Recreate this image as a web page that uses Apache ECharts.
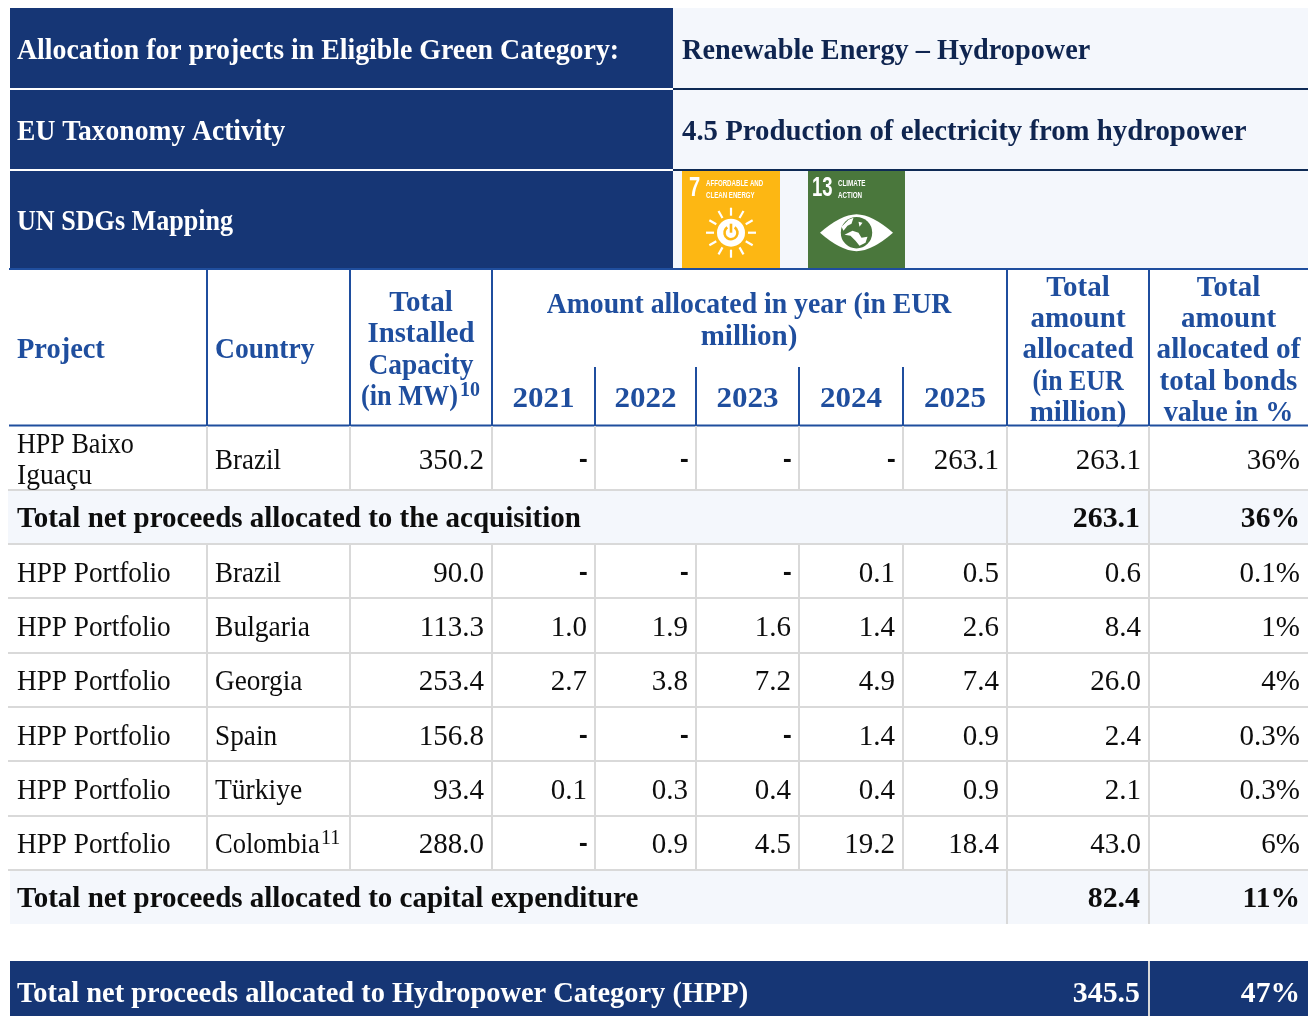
<!DOCTYPE html>
<html>
<head>
<meta charset="utf-8">
<title>Hydropower allocation</title>
<script src="https://cdn.jsdelivr.net/npm/echarts@6/dist/echarts.min.js"></script>
<style>
  html, body { margin: 0; padding: 0; background: #fff; }
  #chart { width: 1314px; height: 1016px; }
</style>
</head>
<body>
<div id="chart"></div>
<script>
// table content
const infoLabels = ["Allocation for projects in Eligible Green Category:", "EU Taxonomy Activity", "UN SDGs Mapping"];
const infoValues = ["Renewable Energy – Hydropower", "4.5 Production of electricity from hydropower"];
const years = ["2021", "2022", "2023", "2024", "2025"];
const projects = ["HPP Baixo Iguaçu", "HPP Portfolio", "HPP Portfolio", "HPP Portfolio", "HPP Portfolio", "HPP Portfolio", "HPP Portfolio"];
const countries = ["Brazil", "Brazil", "Bulgaria", "Georgia", "Spain", "Türkiye", "Colombia"];
const capacity = ["350.2", "90.0", "113.3", "253.4", "156.8", "93.4", "288.0"];
const amount2021 = ["-", "-", "1.0", "2.7", "-", "0.1", "-"];
const amount2022 = ["-", "-", "1.9", "3.8", "-", "0.3", "0.9"];
const amount2023 = ["-", "-", "1.6", "7.2", "-", "0.4", "4.5"];
const amount2024 = ["-", "0.1", "1.4", "4.9", "1.4", "0.4", "19.2"];
const amount2025 = ["263.1", "0.5", "2.6", "7.4", "0.9", "0.9", "18.4"];
const totalAmount = ["263.1", "0.6", "8.4", "26.0", "2.4", "2.1", "43.0"];
const totalShare = ["36%", "0.1%", "1%", "4%", "0.3%", "0.3%", "6%"];
const subtotalLabels = ["Total net proceeds allocated to the acquisition", "Total net proceeds allocated to capital expenditure", "Total net proceeds allocated to Hydropower Category (HPP)"];
const subtotalAmount = ["263.1", "82.4", "345.5"];
const subtotalShare = ["36%", "11%", "47%"];

// layout, in picture units
const colEdges = [9, 207, 350, 492, 595, 696, 799, 903, 1007, 1149, 1308];
const rowCentres = [458, 571, 625, 679, 734, 788, 842];
const subtotalCentres = [517, 897, 992];
const rowLines = [490, 544, 598, 653, 707, 761, 816, 870];

const NAVY = "#163675";
const BLUE = "#1f4e9e";
const PALE = "#f4f7fc";
const GREY = "#d9d9d9";
const INK = "#0d0d0d";
const DARK = "#0f2550";
const YELLOW = "#fdb713";
const GREEN = "#4a773c";
const FONT = "'Liberation Serif', serif";
const SIZE = 29;
const TEXT_DY = 3;

// the source font is narrower than this one on letters, so squeeze by string
const textScale = {
  "Allocation for projects in Eligible Green Category:": 0.96,
  "EU Taxonomy Activity": 0.95,
  "UN SDGs Mapping": 0.9,
  "Renewable Energy – Hydropower": 0.974,
  "4.5 Production of electricity from hydropower": 0.993,
  "Total net proceeds allocated to Hydropower Category (HPP)": 0.98,
  "Project": 0.98,
  "Country": 0.95,
  "Amount allocated in year (in EUR": 0.957,
  "Capacity": 0.945,
  "Installed": 0.99,
  "(in MW)": 0.905,
  "(in EUR": 0.89,
  "value in %": 0.97,
  "allocated of": 1.01,
  "2021": 1.07, "2022": 1.07, "2023": 1.07, "2024": 1.07, "2025": 1.07,
  "HPP Baixo": 0.9,
  "Iguaçu": 0.95,
  "HPP Portfolio": 0.94,
  "Brazil": 0.93,
  "Bulgaria": 0.95,
  "Georgia": 0.94,
  "Spain": 0.94,
  "Türkiye": 0.95,
  "Colombia": 0.915,
};

const rects = [
  [10, 8, 673, 88, NAVY], [10, 90, 673, 169, NAVY], [10, 171, 673, 268, NAVY],
  [673, 8, 1308, 268, PALE],
  [8, 491, 1308, 543, PALE], [10, 871, 1308, 924, PALE],
  [10, 961, 1308, 1016, NAVY],
  [682, 171, 780, 268, YELLOW], [808, 171, 905, 268, GREEN],
];

const lines = [
  [673, 89, 1308, 89, "#0e2a55", 2], [673, 170, 1308, 170, "#0e2a55", 2],
  [9, 269, 1308, 269, BLUE, 2], [9, 425.5, 1308, 425.5, BLUE, 2],
  [1149, 961, 1149, 1016, GREY, 2],
];
rowLines.forEach((y) => lines.push([8, y, 1308, y, GREY, 2]));
[207, 350, 492, 1007, 1149].forEach((x) => lines.push([x, 270, x, 425, BLUE, 2]));
[595, 696, 799, 903].forEach((x) => lines.push([x, 367, x, 425, BLUE, 2]));
[207, 350, 492, 595, 696, 799, 903].forEach((x) => {
  lines.push([x, 426, x, 490, GREY, 2]);
  lines.push([x, 545, x, 870, GREY, 2]);
});
[1007, 1149].forEach((x) => {
  lines.push([x, 426, x, 924, GREY, 2]);
});

const texts = [];
function addText(x, y, text, align, color, bold, sx) {
  texts.push({ x, y, text, align, color, font: (bold ? "bold " : "") + SIZE + "px " + FONT, sx: sx || textScale[text] || 1 });
}
function addSup(x, y, text, color, bold) {
  texts.push({ x, y, text, align: "left", color, font: (bold ? "bold " : "") + "20px " + FONT, sx: 1 });
}
function addDash(x, y) {
  texts.push({ x: x + 1, y, text: "-", align: "right", color: INK, font: "bold 22px 'DejaVu Sans', sans-serif", sx: 1 });
}

addText(17, 49, infoLabels[0], "left", "#fff", true);
addText(17, 130, infoLabels[1], "left", "#fff", true);
addText(17, 220, infoLabels[2], "left", "#fff", true);
addText(682, 49, infoValues[0], "left", DARK, true);
addText(682, 130, infoValues[1], "left", DARK, true);

addText(17, 348, "Project", "left", BLUE, true);
addText(215, 348, "Country", "left", BLUE, true);
["Total", "Installed", "Capacity"].forEach((t, i) => addText(421, [301, 332, 364][i], t, "center", BLUE, true));
addText(361, 395, "(in MW)", "left", BLUE, true);
addSup(460, 388, "10", BLUE, true);
addText(749, 303, "Amount allocated in year (in EUR", "center", BLUE, true);
addText(749, 335, "million)", "center", BLUE, true);
years.forEach((t, i) => addText((colEdges[i + 3] + colEdges[i + 4]) / 2, 397, t, "center", BLUE, true));
["Total", "amount", "allocated", "(in EUR", "million)"].forEach((t, i) => addText(1078, [286, 317, 348, 380, 411][i], t, "center", BLUE, true));
["Total", "amount", "allocated of", "total bonds", "value in %"].forEach((t, i) => addText(1228.5, [286, 317, 348, 380, 411][i], t, "center", BLUE, true));

const numberCols = [capacity, amount2021, amount2022, amount2023, amount2024, amount2025, totalAmount, totalShare];
projects.forEach((name, r) => {
  const y = rowCentres[r];
  if (r === 0) {
    const parts = name.split(" ");
    addText(17, 442, parts[0] + " " + parts[1], "left", INK, false);
    addText(17, 473, parts[2], "left", INK, false);
  } else {
    addText(17, y, name, "left", INK, false);
  }
  addText(215, y, countries[r], "left", INK, false);
  if (r === 6) addSup(321, y - 6, "11", INK, false);
  numberCols.forEach((col, c) => {
    if (col[r] === "-") addDash(colEdges[c + 3] - 8, y);
    else addText(colEdges[c + 3] - 8, y, col[r], "right", INK, false);
  });
});

subtotalLabels.forEach((t, i) => {
  const color = i === 2 ? "#fff" : INK;
  addText(17, subtotalCentres[i], t, "left", color, true);
  addText(1140, subtotalCentres[i], subtotalAmount[i], "right", color, true, 1.03);
  addText(1300, subtotalCentres[i], subtotalShare[i], "right", color, true, 1.02);
});

// small goal tiles
const tileTexts = [
  { x: 689, y: 188, text: "7", size: 28, sx: 0.72 },
  { x: 706, y: 183.5, text: "AFFORDABLE AND", size: 9.5, sx: 0.645 },
  { x: 706, y: 195, text: "CLEAN ENERGY", size: 9.5, sx: 0.645 },
  { x: 812, y: 188, text: "13", size: 28, sx: 0.66 },
  { x: 838, y: 183.5, text: "CLIMATE", size: 9.5, sx: 0.66 },
  { x: 838, y: 195, text: "ACTION", size: 9.5, sx: 0.66 },
];

const sunCentre = [731, 232.7];
const eyeCentre = [856.5, 232.7];

function rectSeries() {
  return {
    type: "custom", silent: true, clip: false, z: 1,
    data: rects.map((_, i) => [i]),
    renderItem(params, api) {
      const r = rects[params.dataIndex];
      const a = api.coord([r[0], r[1]]);
      const b = api.coord([r[2], r[3]]);
      return { type: "rect", shape: { x: a[0], y: a[1], width: b[0] - a[0], height: b[1] - a[1] }, style: { fill: r[4] } };
    },
  };
}

function lineSeries() {
  return {
    type: "custom", silent: true, clip: false, z: 2,
    data: lines.map((_, i) => [i]),
    renderItem(params, api) {
      const l = lines[params.dataIndex];
      const a = api.coord([l[0], l[1]]);
      const b = api.coord([l[2], l[3]]);
      return { type: "line", shape: { x1: a[0], y1: a[1], x2: b[0], y2: b[1] }, style: { stroke: l[4], lineWidth: l[5] } };
    },
  };
}

function textSeries() {
  return {
    type: "custom", silent: true, clip: false, z: 3,
    data: texts.map((_, i) => [i]),
    renderItem(params, api) {
      const t = texts[params.dataIndex];
      const p = api.coord([t.x, t.y + TEXT_DY]);
      return {
        type: "text", x: p[0], y: p[1], scaleX: t.sx,
        style: { text: t.text, fill: t.color, align: t.align, verticalAlign: "middle", font: t.font },
      };
    },
  };
}

function tileTextSeries() {
  return {
    type: "custom", silent: true, clip: false, z: 4,
    data: tileTexts.map((_, i) => [i]),
    renderItem(params, api) {
      const t = tileTexts[params.dataIndex];
      const p = api.coord([t.x, t.y]);
      return {
        type: "text", x: p[0], y: p[1], scaleX: t.sx,
        style: { text: t.text, fill: "#fff", align: "left", verticalAlign: "middle", font: "bold " + t.size + "px 'Liberation Sans', sans-serif" },
      };
    },
  };
}

function iconSeries() {
  return {
    type: "custom", silent: true, clip: false, z: 4,
    data: [[0]],
    renderItem(params, api) {
      const s = api.coord(sunCentre);
      const e = api.coord(eyeCentre);
      const children = [];
      for (let i = 0; i < 12; i++) {
        const ang = (i * Math.PI) / 6;
        children.push({
          type: "line",
          shape: { x1: s[0] + Math.cos(ang) * 17, y1: s[1] + Math.sin(ang) * 17, x2: s[0] + Math.cos(ang) * 25, y2: s[1] + Math.sin(ang) * 25 },
          style: { stroke: "#fff", lineWidth: 2.2 },
        });
      }
      children.push({ type: "circle", shape: { cx: s[0], cy: s[1], r: 14 }, style: { fill: "#fff" } });
      children.push({ type: "arc", shape: { cx: s[0], cy: s[1], r: 6.5, startAngle: -Math.PI / 2 + 0.6, endAngle: -Math.PI / 2 - 0.6 + Math.PI * 2 }, style: { stroke: YELLOW, lineWidth: 2.6, fill: "none" } });
      children.push({ type: "line", shape: { x1: s[0], y1: s[1] - 9, x2: s[0], y2: s[1] }, style: { stroke: YELLOW, lineWidth: 2.6 } });
      children.push({
        type: "path",
        shape: { pathData: "M-36.5 0Q-16 -18 0 -18.5Q16 -18 36.5 0Q16 18 0 18.5Q-16 18 -36.5 0Z", x: e[0] - 36.5, y: e[1] - 18.5, width: 73, height: 37 },
        style: { fill: "#fff" },
      });
      children.push({ type: "circle", shape: { cx: e[0], cy: e[1], r: 15.7 }, style: { fill: GREEN } });
      children.push({
        type: "path",
        shape: { pathData: "M-15 -6L-8 -13L-3 -15L-5 -9L-9 -7L-13 -2Z M-12 2L-4 -2L2 0L5 5L11 4L9 10L3 13L-1 8L-6 3Z M2 -11L6 -10L3 -6Z", x: e[0] - 15, y: e[1] - 15, width: 26, height: 28 },
        style: { fill: "#fff" },
      });
      return { type: "group", children };
    },
  };
}

const chart = echarts.init(document.getElementById("chart"));
chart.setOption({
  animation: false,
  backgroundColor: "#fff",
  grid: { left: 0, right: 0, top: 0, bottom: 0 },
  xAxis: { type: "value", min: 0, max: 1314, show: false },
  yAxis: { type: "value", min: 0, max: 1016, inverse: true, show: false },
  series: [rectSeries(), lineSeries(), iconSeries(), textSeries(), tileTextSeries()],
});
</script>
</body>
</html>
